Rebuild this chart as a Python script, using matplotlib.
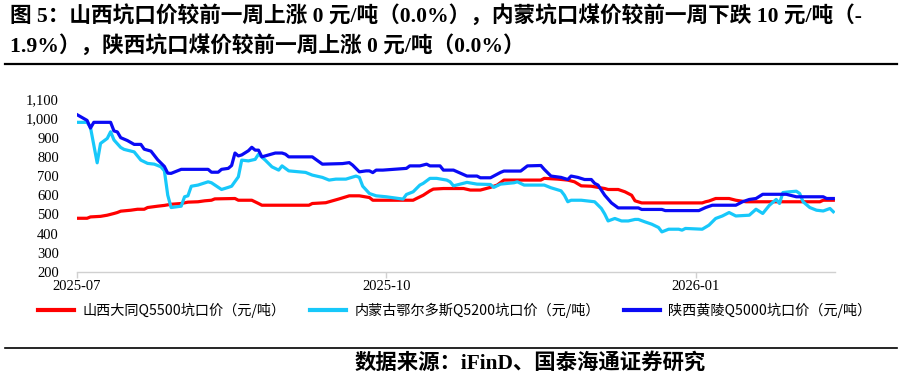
import matplotlib
matplotlib.use('Agg')
import matplotlib.pyplot as plt
import matplotlib.dates as mdates
from matplotlib.lines import Line2D
from matplotlib.ticker import FuncFormatter
import pandas as pd

# ---------------- data (days since start_date, price in 元/吨) ----------------
start_date = '2025-07-01'

shanxi_days = [0, 3, 4, 7, 9, 11, 12, 13, 16, 18, 20, 21, 24, 26, 28, 31, 33, 36, 38, 40, 41,
               47, 48, 52, 54, 55, 69, 70, 74, 76, 78, 81, 84, 87, 88, 100, 101, 103, 105, 106,
               109, 115, 117, 120, 123, 125, 127, 138, 139, 143, 146, 148, 150, 153, 157, 158,
               161, 163, 165, 166, 168, 186, 187, 188, 190, 194, 196, 199, 221, 222, 225]
shanxi_vals = [480, 480, 487, 490, 496, 505, 510, 517, 522, 527, 527, 536, 543, 547, 553, 557, 564,
               566, 571, 574, 581, 583, 574, 574, 557, 548, 548, 557, 561, 571, 581, 597, 597, 588,
               574, 574, 583, 600, 623, 632, 635, 635, 627, 627, 641, 653, 679, 679, 688, 684, 679,
               670, 649, 647, 635, 630, 630, 618, 600, 571, 560, 560, 566, 570, 583, 583, 574, 566,
               566, 574, 574]

neimeng_days = [0, 3, 4, 6, 7, 9, 10, 11, 13, 14, 17, 19, 21, 23, 25, 26, 27, 28, 31, 32, 33, 34,
                36, 39, 40, 43, 45, 46, 48, 49, 51, 53, 54, 56, 58, 60, 61, 63, 68, 70, 73, 75, 77,
                80, 83, 84, 85, 87, 89, 92, 97, 98, 100, 102, 103, 105, 107, 110, 111, 112, 114,
                116, 119, 123, 124, 126, 130, 131, 133, 139, 141, 144, 145, 146, 147, 150, 154,
                156, 157, 158, 160, 162, 164, 166, 167, 169, 171, 173, 174, 176, 179, 180, 181,
                186, 188, 190, 192, 194, 196, 200, 202, 204, 206, 208, 209, 210, 212, 214, 215,
                216, 218, 220, 222, 224, 225]
neimeng_vals = [980, 980, 954, 769, 870, 896, 931, 888, 849, 839, 826, 783, 766, 762, 748, 727,
                600, 536, 543, 592, 597, 647, 653, 670, 665, 630, 641, 647, 696, 783, 779, 787,
                814, 783, 748, 731, 753, 727, 719, 705, 693, 679, 684, 684, 700, 693, 647, 609,
                597, 592, 580, 604, 618, 653, 662, 688, 688, 679, 670, 649, 658, 667, 658, 656,
                641, 658, 665, 670, 653, 653, 639, 623, 600, 566, 574, 574, 566, 531, 502, 466,
                479, 466, 466, 474, 474, 461, 449, 432, 409, 423, 423, 418, 427, 423, 444, 479,
                492, 510, 492, 496, 527, 505, 548, 578, 557, 614, 618, 621, 609, 566, 536, 522,
                518, 531, 514]

shaanxi_days = [0, 3, 4, 5, 10, 11, 12, 13, 15, 17, 19, 20, 22, 24, 26, 27, 28, 31, 39, 40, 42,
                43, 45, 46, 47, 48, 49, 51, 52, 53, 54, 55, 56, 59, 61, 62, 63, 70, 73, 79, 81,
                82, 84, 86, 87, 88, 89, 91, 98, 99, 102, 104, 105, 108, 109, 112, 116, 119, 120,
                123, 126, 127, 132, 134, 138, 139, 141, 144, 146, 147, 149, 151, 153, 154, 155,
                157, 159, 161, 167, 168, 174, 175, 185, 187, 189, 196, 198, 200, 202, 204, 211,
                214, 222, 223, 225]
shaanxi_vals = [1020, 990, 950, 980, 980, 935, 930, 900, 885, 865, 865, 840, 830, 785, 750, 715,
                714, 735, 735, 720, 720, 735, 740, 755, 820, 805, 810, 832, 850, 835, 835, 800,
                805, 820, 820, 814, 800, 800, 762, 765, 770, 757, 722, 727, 727, 718, 731, 731,
                740, 753, 753, 762, 753, 753, 731, 731, 700, 700, 691, 691, 719, 726, 726, 753,
                755, 735, 700, 693, 682, 700, 693, 682, 682, 662, 653, 600, 560, 534, 534, 526,
                526, 520, 520, 536, 548, 548, 566, 578, 583, 605, 605, 592, 592, 583, 583]

series_names = ['山西大同Q5500坑口价（元/吨）',
                '内蒙古鄂尔多斯Q5200坑口价（元/吨）',
                '陕西黄陵Q5000坑口价（元/吨）']
series_colors = ['#FF0000', '#17C8FA', '#0A0AF5']

y_ticks = [200, 300, 400, 500, 600, 700, 800, 900, 1000, 1100]

title_line1 = '图 5：山西坑口价较前一周上涨 0 元/吨（0.0%），内蒙坑口煤价较前一周下跌 10 元/吨（-'
title_line2 = '1.9%），陕西坑口煤价较前一周上涨 0 元/吨（0.0%）'
source_text = '数据来源：iFinD、国泰海通证券研究'

# ---------------- figure ----------------
W, H = 902, 380
fig = plt.figure(figsize=(W / 100, H / 100), dpi=100)

serif_cjk = ['Liberation Serif', 'Noto Sans CJK SC']

ax = fig.add_axes([77 / W, 1 - 272 / H, (835 - 77) / W, (272 - 99.3) / H])

t0 = pd.Timestamp(start_date)
def to_dates(days):
    return [t0 + pd.Timedelta(days=int(d)) for d in days]

all_days = [shanxi_days, neimeng_days, shaanxi_days]
all_vals = [shanxi_vals, neimeng_vals, shaanxi_vals]
handles = []
for d, v, c, n in zip(all_days, all_vals, series_colors, series_names):
    ln, = ax.plot(to_dates(d), v, color=c, lw=2.3, solid_joinstyle='round', label=n)
    handles.append(ln)

ax.set_ylim(200, 1100)
ax.set_yticks(y_ticks)
ax.yaxis.set_major_formatter(FuncFormatter(lambda v, p: f'{int(v):,}'))
ax.set_xlim(t0, t0 + pd.Timedelta(days=225.5))
ax.xaxis.set_major_locator(mdates.MonthLocator(bymonth=[1, 4, 7, 10]))
ax.xaxis.set_major_formatter(mdates.DateFormatter('%Y-%m'))

for s in ['top', 'right', 'left']:
    ax.spines[s].set_visible(False)
ax.spines['bottom'].set_color('#D0D0D0')
ax.spines['bottom'].set_linewidth(1.0)
ax.tick_params(axis='y', length=0, pad=13, labelsize=10.5)
ax.tick_params(axis='x', length=4, width=1, color='#D0D0D0', pad=2, labelsize=10.5, direction='out')
for lab in ax.get_xticklabels() + ax.get_yticklabels():
    lab.set_family('Liberation Serif')

# title
fig.text(10 / W, 1 - 16 / H, title_line1, family=serif_cjk, fontweight='bold', fontsize=15.6,
         ha='left', va='center')
fig.text(10 / W, 1 - 46 / H, title_line2, family=serif_cjk, fontweight='bold', fontsize=15.6,
         ha='left', va='center')
fig.add_artist(Line2D([5 / W, 897 / W], [1 - 63.5 / H] * 2, color='black', lw=1.6,
                      transform=fig.transFigure))

# legend
leg = fig.legend(handles=handles, labels=series_names, loc='center',
                 bbox_to_anchor=(455 / W, 1 - 310 / H), ncol=3, frameon=False,
                 handlelength=2.5, handletextpad=0.6, columnspacing=1.75,
                 prop={'family': ['Noto Sans CJK SC'], 'size': 10.2})
for l in leg.get_lines():
    l.set_linewidth(3)

# bottom line + source
fig.add_artist(Line2D([5 / W, 897 / W], [1 - 348 / H] * 2, color='black', lw=1.2,
                      transform=fig.transFigure))
fig.text(355 / W, 1 - 363 / H, source_text, family=serif_cjk, fontweight='bold', fontsize=15.4,
         ha='left', va='center')

fig.savefig('out.png', dpi=100)
